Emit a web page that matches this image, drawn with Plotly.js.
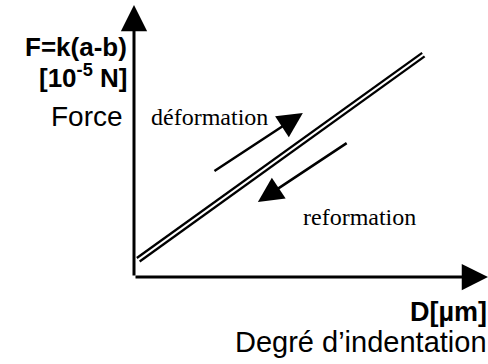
<!DOCTYPE html>
<html>
<head>
<meta charset="utf-8">
<script src="https://cdn.plot.ly/plotly-3.0.1.min.js"></script>
<style>
  html, body { margin: 0; padding: 0; background: #fff; }
  #chart { width: 488px; height: 364px; }
</style>
</head>
<body>
<div id="chart"></div>
<script>
// Indentation cycle: force vs. indentation depth (arbitrary schematic units)
var loadD   = [0.08, 8.14];   // déformation branch, indentation D
var loadF   = [0.70, 8.24];   // déformation branch, force F
var unloadD = [0.16, 8.21];   // reformation branch, indentation D
var unloadF = [0.57, 8.11];   // reformation branch, force F

// Direction arrows: [tail, head] in D / F units
var loadArrowD   = [2.23, 4.77];
var loadArrowF   = [3.86, 6.03];
var unloadArrowD = [6.05, 3.50];
var unloadArrowF = [4.96, 2.76];

// Axis extent (origin to arrow tip)
var axisMaxD = 10;
var axisMaxF = 10;

var W = 488, H = 364;
var M = { l: 134, r: 0, t: 5, b: 87 };
var plotW = W - M.l - M.r, plotH = H - M.t - M.b;
function pxX(x) { return (x - M.l) / plotW; }
function pxY(y) { return (H - M.b - y) / plotH; }

var lineStyle = { color: '#000', width: 2.3 };

var traces = [
  { x: loadD, y: loadF, mode: 'lines', line: lineStyle, hoverinfo: 'skip', cliponaxis: false },
  { x: unloadD, y: unloadF, mode: 'lines', line: lineStyle, hoverinfo: 'skip', cliponaxis: false }
];

function arrow(dx, fy, width, size) {
  return {
    x: dx[1], y: fy[1], ax: dx[0], ay: fy[0],
    xref: 'x', yref: 'y', axref: 'x', ayref: 'y',
    text: '', showarrow: true, arrowhead: 2,
    arrowwidth: width, arrowsize: size, arrowcolor: '#000'
  };
}

var sans = 'Liberation Sans, Arial, Helvetica, sans-serif';
var serif = 'Liberation Serif, Times New Roman, serif';

function label(text, x, y, xanchor, size, family) {
  return {
    xref: 'paper', yref: 'paper', x: pxX(x), y: pxY(y),
    xanchor: xanchor, yanchor: 'middle', showarrow: false, borderpad: 0,
    text: text, font: { family: family, size: size, color: '#000' }
  };
}

var annotations = [
  // axes with arrow tips
  arrow([0, 0], [0, axisMaxF], 3, 1.75),
  arrow([0, axisMaxD], [0, 0], 3, 1.75),
  // cycle direction arrows
  arrow(loadArrowD, loadArrowF, 2.5, 2.0),
  arrow(unloadArrowD, unloadArrowF, 2.5, 2.0),
  // axis titles
  label('<b>F=k(a-b)</b>', 128, 47, 'right', 26, sans),
  label('<b>[10<sup>-5</sup> N]</b>', 128, 77, 'right', 26, sans),
  label('Force', 124, 116, 'right', 28, sans),
  label('<b>D[µm]</b>', 488, 312, 'right', 27, sans),
  label('Degré d’indentation', 488, 342, 'right', 29, sans),
  // cycle branch names
  label('déformation', 150, 117, 'left', 24, serif),
  label('reformation', 302, 217, 'left', 24, serif)
];

var layout = {
  width: W, height: H,
  margin: M,
  paper_bgcolor: '#fff', plot_bgcolor: '#fff',
  showlegend: false,
  xaxis: { range: [0, axisMaxD], visible: false, fixedrange: true },
  yaxis: { range: [0, axisMaxF], visible: false, fixedrange: true },
  annotations: annotations
};

Plotly.newPlot('chart', traces, layout, { staticPlot: true, displayModeBar: false });
</script>
</body>
</html>
